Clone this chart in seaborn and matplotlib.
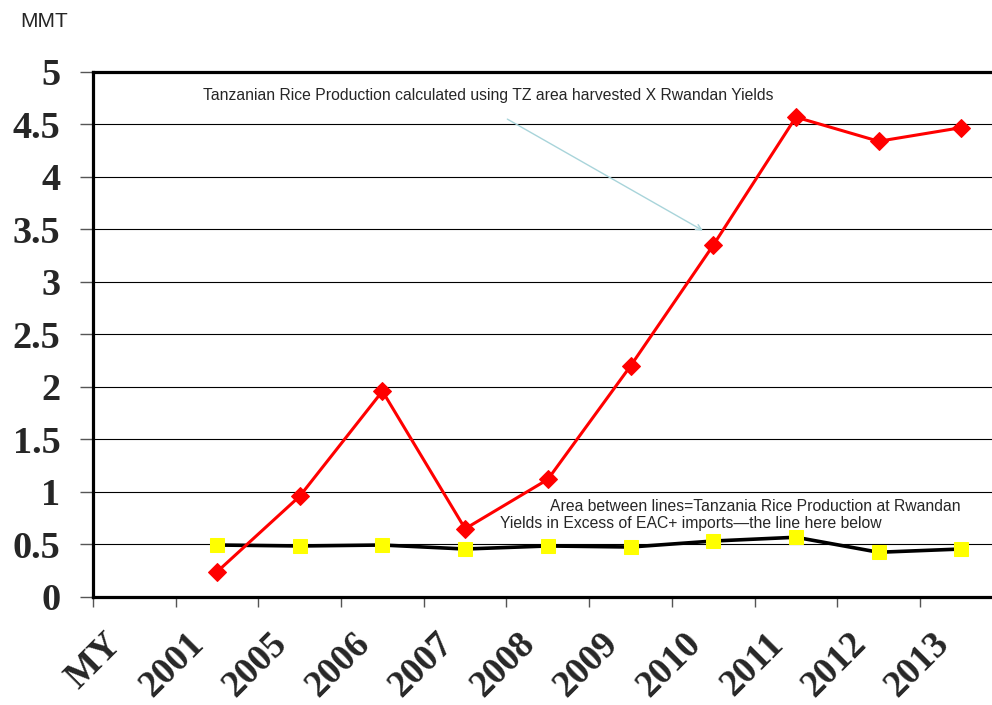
import matplotlib
matplotlib.use("Agg")
import matplotlib.pyplot as plt
import matplotlib.transforms as mtransforms
import numpy as np
import pandas as pd
import seaborn as sns

categories = ["MY", "2001", "2005", "2006", "2007", "2008", "2009", "2010", "2011", "2012", "2013"]
years = ["2001", "2005", "2006", "2007", "2008", "2009", "2010", "2011", "2012", "2013"]
rwandan_yield_production = [0.24, 0.96, 1.96, 0.65, 1.12, 2.20, 3.35, 4.57, 4.34, 4.47]
eac_imports = [0.495, 0.486, 0.495, 0.457, 0.486, 0.476, 0.533, 0.569, 0.426, 0.457]
y_ticks = [0, 0.5, 1, 1.5, 2, 2.5, 3, 3.5, 4, 4.5, 5]
y_tick_labels = ["0", "0.5", "1", "1.5", "2", "2.5", "3", "3.5", "4", "4.5", "5"]

sns.set_style("white")
plt.rcParams["font.family"] = ["Liberation Sans", "DejaVu Sans"]

pos = [categories.index(y) for y in years]
df = pd.DataFrame({
    "pos": pos * 2,
    "value": rwandan_yield_production + eac_imports,
    "series": ["red"] * len(years) + ["black"] * len(years),
})

fig = plt.figure(figsize=(9.92, 7.05), dpi=100)
ax = fig.add_axes([0.09375, 0.1532, 0.917, 0.7447])

sns.lineplot(data=df[df.series == "black"], x="pos", y="value", ax=ax,
             color="black", lw=2.6, marker="s", markersize=9.5,
             markerfacecolor="#ffff00", markeredgecolor="#ffff00", zorder=3)
sns.lineplot(data=df[df.series == "red"], x="pos", y="value", ax=ax,
             color="#ff0000", lw=2.2, marker="D", markersize=9.5,
             markerfacecolor="#ff0000", markeredgecolor="#ff0000", zorder=4)

ax.set_xlim(-0.5, len(categories) - 0.5)
ax.set_ylim(0, 5)
ax.set_xlabel("")
ax.set_ylabel("")

# gridlines
ax.set_yticks(y_ticks)
ax.set_yticklabels(y_tick_labels, fontfamily="Liberation Serif", fontweight="bold", fontsize=27.5)
ax.yaxis.grid(True, color="black", lw=0.8)
ax.set_axisbelow(True)
ax.tick_params(axis="y", direction="out", length=9.5, width=1, color="#555555", pad=14, left=True)

# x: boundary ticks (major) + labels at centers (minor)
ax.set_xticks(np.arange(-0.5, len(categories) - 0.5, 1.0))
ax.set_xticklabels([])
ax.tick_params(axis="x", which="major", direction="out", length=7.5, width=1, color="#555555", bottom=True)
ax.set_xticks(np.arange(len(categories)), minor=True)
ax.set_xticklabels(categories, minor=True, rotation=45, ha="right", va="center",
                   rotation_mode="anchor", fontfamily="Liberation Serif",
                   fontweight="bold", fontsize=27)
ax.tick_params(axis="x", which="minor", length=0, pad=30)
offset = mtransforms.ScaledTranslation(-18 / 100, 0, fig.dpi_scale_trans)
for lab in ax.xaxis.get_minorticklabels():
    lab.set_transform(lab.get_transform() + offset)

for side in ["left", "bottom", "top"]:
    ax.spines[side].set_visible(True)
    ax.spines[side].set_color("black")
    ax.spines[side].set_linewidth(2.3)
ax.spines["right"].set_visible(False)

fig.text(0.020, 0.969, "MMT", fontsize=15, va="center", ha="left")
fig.text(0.2046, 0.864,
         "Tanzanian Rice Production calculated using TZ area harvested X Rwandan Yields",
         fontsize=11.3, va="center", ha="left")
fig.text(0.5544, 0.282, "Area between lines=Tanzania Rice Production at Rwandan",
         fontsize=11.3, va="center", ha="left")
fig.text(0.504, 0.257, "Yields in Excess of EAC+ imports\u2014the line here below",
         fontsize=11.3, va="center", ha="left")
ax.annotate("", xy=(0.711, 0.671), xycoords="figure fraction",
            xytext=(0.509, 0.833), textcoords="figure fraction",
            arrowprops=dict(arrowstyle="->", color="#a8d4da", lw=1.0))

fig.savefig("out.png", dpi=100)
